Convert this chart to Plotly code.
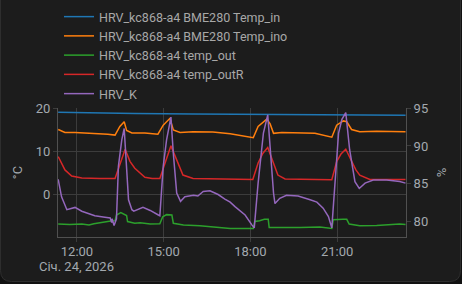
import plotly.graph_objects as go

DAY = "2026-01-24 "

# ---- data ----
temp_in_t = ["11:21", "12:30", "14:00", "16:00", "18:00", "20:00", "22:00", "23:22"]
temp_in_v = [19.0, 18.8, 18.7, 18.6, 18.5, 18.5, 18.4, 18.3]

temp_ino_t = ["11:21", "11:35", "11:56", "12:23", "13:04", "13:19", "13:29", "13:38", "13:43",
              "13:54", "14:21", "14:48", "14:59", "15:13", "15:20", "15:34", "16:01", "16:42",
              "17:18", "18:06", "18:16", "18:34", "18:41", "18:48", "19:05", "20:14", "20:49",
              "20:59", "21:13", "21:20", "21:30", "21:47", "22:22", "23:22"]
temp_ino_v = [15.0, 14.3, 14.3, 14.2, 13.9, 13.7, 15.7, 16.8, 14.8,
              14.2, 14.2, 13.9, 16.0, 17.6, 14.9, 14.3, 14.5, 14.4,
              14.0, 13.1, 15.7, 17.4, 16.3, 14.1, 14.3, 14.1, 13.2,
              16.0, 17.0, 16.8, 15.0, 14.5, 14.6, 14.5]

temp_out_t = ["11:21", "11:45", "12:10", "12:25", "12:35", "12:58", "13:10", "13:19", "13:22",
              "13:31", "13:38", "13:43", "13:45", "14:00", "14:11", "14:32", "14:52", "14:58",
              "15:06", "15:17", "15:20", "15:41", "16:15", "17:07", "17:18", "18:06", "18:09",
              "18:19", "18:29", "18:37", "18:39", "19:43", "20:14", "20:24", "20:49", "20:52",
              "21:12", "21:20", "21:25", "21:47", "22:22", "23:10", "23:22"]
temp_out_v = [-7.0, -7.1, -7.0, -7.2, -6.9, -6.4, -6.3, -6.2, -4.9,
              -4.3, -4.6, -5.0, -6.4, -6.8, -6.7, -7.0, -6.9, -5.3,
              -4.8, -4.9, -6.8, -7.2, -7.4, -7.8, -8.0, -8.0, -6.4,
              -6.2, -5.9, -5.9, -7.8, -7.8, -7.7, -7.7, -8.0, -6.0,
              -5.9, -5.9, -7.0, -7.4, -7.3, -7.0, -7.1]

temp_outR_t = ["11:21", "11:35", "11:49", "12:10", "12:48", "13:19", "13:40", "13:50", "14:00",
               "14:11", "14:21", "14:36", "14:52", "15:15", "15:27", "15:34", "15:40", "16:01",
               "17:18", "18:05", "18:16", "18:26", "18:36", "18:47", "18:57", "19:12", "20:49",
               "20:59", "21:08", "21:18", "21:30", "21:39", "21:47", "22:08", "23:22"]
temp_outR_v = [8.7, 5.6, 4.2, 3.7, 3.6, 3.6, 10.4, 7.6, 6.0,
               4.8, 3.9, 3.6, 3.6, 11.2, 7.9, 5.8, 4.4, 3.6,
               3.4, 3.4, 7.2, 9.5, 10.8, 7.2, 4.4, 3.5, 3.3,
               7.5, 9.3, 10.4, 7.5, 5.6, 4.4, 3.4, 3.4]

hrv_k_t = ["11:21", "11:28", "11:39", "11:49", "11:56", "12:10", "12:23", "12:37", "12:58",
           "13:09", "13:12", "13:13", "13:17", "13:22", "13:26", "13:33", "13:38", "13:43",
           "13:47", "13:54", "13:58", "14:17", "14:32", "14:49", "14:52", "14:59", "15:06",
           "15:15", "15:20", "15:27", "15:35", "15:44", "16:02", "16:11", "16:22", "16:36",
           "16:53", "17:07", "17:18", "17:28", "17:49", "18:03", "18:08", "18:16", "18:27",
           "18:36", "18:41", "18:48", "18:51", "19:01", "19:15", "19:39", "20:04", "20:18",
           "20:31", "20:42", "20:49", "20:54", "21:03", "21:10", "21:18", "21:26", "21:37",
           "21:46", "21:58", "22:15", "22:43", "23:10", "23:22"]
hrv_k_v = [85.6, 83.3, 81.6, 81.8, 81.9, 81.4, 81.1, 80.8, 80.6,
           80.5, 79.9, 80.4, 79.5, 80.4, 87.3, 90.8, 92.3, 86.0,
           82.9, 81.6, 81.4, 81.9, 81.5, 80.9, 80.8, 87.3, 90.8,
           93.8, 89.0, 83.8, 82.7, 83.3, 83.5, 83.4, 84.0, 84.1,
           83.6, 83.0, 82.6, 82.0, 80.9, 79.6, 79.2, 85.1, 91.7,
           94.1, 89.5, 83.8, 82.4, 83.1, 83.5, 83.4, 82.9, 82.6,
           81.8, 80.7, 79.2, 83.8, 91.7, 93.5, 94.4, 89.5, 85.3,
           84.4, 85.1, 85.5, 85.5, 85.3, 85.1]

series_names = ["HRV_kc868-a4 BME280 Temp_in", "HRV_kc868-a4 BME280 Temp_ino",
                "HRV_kc868-a4 temp_out", "HRV_kc868-a4 temp_outR", "HRV_K"]
x_tick_times = ["12:00", "15:00", "18:00", "21:00"]
x_tick_labels = ["12:00", "15:00", "18:00", "21:00"]
date_label = "Січ. 24, 2026"
y_left_ticks = [0, 10, 20]
y_right_ticks = [80, 85, 90, 95]
x_range = ["11:20:36", "23:23"]
y_left_range = [-10, 20]
y_right_range = [78, 95]

# ---- style ----
colors = ["#1f77b4", "#ff7f0e", "#2ca02c", "#d62728", "#9467bd"]
BG = "#1c1c1c"
GRID = "#3c3c3c"
AXL = "#505050"
TXT = "#a3a9af"
FONT = "Roboto"
W, H = 462, 284
ML, MR, MT, MB = 58, 56, 108, 47


def ts(lst):
    return [DAY + t for t in lst]


fig = go.Figure()
data = [(temp_in_t, temp_in_v, "y"), (temp_ino_t, temp_ino_v, "y"),
        (temp_out_t, temp_out_v, "y"), (temp_outR_t, temp_outR_v, "y"),
        (hrv_k_t, hrv_k_v, "y2")]
for (t, v, ax), name, c in zip(data, series_names, colors):
    fig.add_trace(go.Scatter(x=ts(t), y=v, name=name, mode="lines", yaxis=ax,
                             line=dict(color=c, width=1.5)))

# card outline (pixel -> paper)
pw, ph = W - ML - MR, H - MT - MB


def px(x):
    return (x - ML) / pw


def py(y):
    return (H - MB - y) / ph


x0, x1, y0, y1, r = 0.5, 460.5, -20, 281.5, 11
path = (f"M{px(x0)},{py(y0)} L{px(x1)},{py(y0)} L{px(x1)},{py(y1 - r)} "
        f"Q{px(x1)},{py(y1)} {px(x1 - r)},{py(y1)} L{px(x0 + r)},{py(y1)} "
        f"Q{px(x0)},{py(y1)} {px(x0)},{py(y1 - r)} Z")

fig.add_annotation(x=DAY + x_tick_times[0], xref="x", y=py(266), yref="paper",
                   text=date_label, showarrow=False, xanchor="center", yanchor="middle",
                   font=dict(size=13, color=TXT))

fig.update_layout(
    width=W, height=H,
    margin=dict(l=ML, r=MR, t=MT, b=MB, autoexpand=False),
    paper_bgcolor="#111111", plot_bgcolor="rgba(0,0,0,0)",
    font=dict(family=FONT, size=13, color=TXT),
    shapes=[dict(type="path", xref="paper", yref="paper", path=path,
                 fillcolor=BG, line=dict(color="#2e2e2e", width=1), layer="below")],
    showlegend=True,
    legend=dict(x=px(59), y=py(2), xanchor="left", yanchor="top",
                bgcolor="rgba(0,0,0,0)", font=dict(size=12.5, color="#a8a8a8"),
                itemwidth=30, tracegroupgap=0),
    xaxis=dict(type="date", range=ts(x_range), tickvals=ts(x_tick_times),
               ticktext=x_tick_labels, showgrid=True, gridcolor=GRID, gridwidth=1,
               showline=True, linecolor=AXL, ticks="outside", ticklen=4,
               tickcolor=GRID, zeroline=False, automargin=False,
               ticklabelstandoff=-2,
               tickfont=dict(size=13, color=TXT)),
    yaxis=dict(range=y_left_range, tickvals=y_left_ticks, showgrid=True,
               gridcolor=GRID, showline=True, linecolor=AXL, ticks="outside",
               ticklen=4, tickcolor=GRID, zeroline=False, automargin=False,
               title=dict(text="°C", standoff=10, font=dict(size=13, color=TXT))),
    yaxis2=dict(range=y_right_range, tickvals=y_right_ticks, overlaying="y",
                side="right", showgrid=False, showline=True, linecolor=AXL,
                ticks="outside", ticklen=4, tickcolor=GRID, zeroline=False,
                automargin=False,
                title=dict(text="%", standoff=9, font=dict(size=13, color=TXT))),
)

fig.write_html("out.html")
